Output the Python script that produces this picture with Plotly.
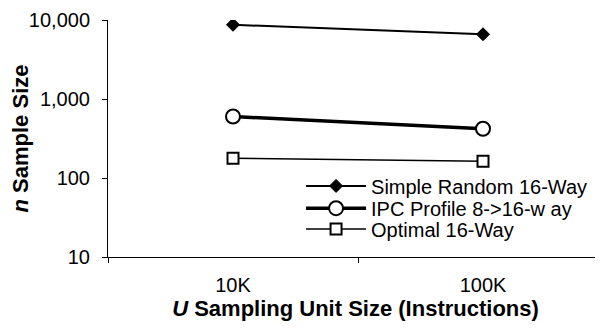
import plotly.graph_objects as go

categories = ["10K", "100K"]
simple_random = [8700, 6600]
ipc_profile = [600, 420]
optimal = [178, 163]
y_tick_vals = [10, 100, 1000, 10000]
y_tick_text = ["10", "100", "1,000", "10,000"]

FONT = "Liberation Sans, Arial, sans-serif"

fig = go.Figure()
fig.add_trace(go.Scatter(
    x=categories, y=simple_random, name="Simple Random 16-Way", mode="lines+markers",
    line=dict(color="black", width=2),
    marker=dict(symbol="diamond", size=10, color="black", line=dict(color="black", width=1)),
    legend="legend",
))
fig.add_trace(go.Scatter(
    x=categories, y=ipc_profile, name="IPC Profile 8->16-w ay", mode="lines+markers",
    line=dict(color="black", width=3.5),
    marker=dict(symbol="circle", size=14, color="white", line=dict(color="black", width=2)),
    legend="legend2",
))
fig.add_trace(go.Scatter(
    x=categories, y=optimal, name="Optimal 16-Way", mode="lines+markers",
    line=dict(color="black", width=1.5),
    marker=dict(symbol="square", size=11, color="white", line=dict(color="black", width=2)),
    legend="legend3",
))

leg_common = dict(x=0.39, xanchor="left", yanchor="middle",
                  bgcolor="rgba(0,0,0,0)", font=dict(size=20), itemwidth=60)

# page body has an 8px default margin, so the figure is offset by (8, 8)
fig.update_layout(
    width=603, height=332,
    margin=dict(l=100, r=8, t=12, b=83),
    paper_bgcolor="white", plot_bgcolor="white",
    font=dict(family=FONT, size=20, color="black"),
    showlegend=True,
    legend=dict(y=0.3, **leg_common),
    legend2=dict(y=0.206, **leg_common),
    legend3=dict(y=0.118, **leg_common),
    xaxis=dict(
        type="category", range=[-0.5, 1.48], automargin=False,
        showline=True, linecolor="black", linewidth=1,
        ticks="outside", tickson="boundaries", ticklen=5, tickcolor="black",
        showgrid=False, zeroline=False, ticklabeloverflow="allow",
        tickfont=dict(size=20), ticklabelstandoff=10,
        title=dict(text="<b><i>U</i> Sampling Unit Size (Instructions)</b>", font=dict(size=22), standoff=3),
    ),
    yaxis=dict(
        type="log", range=[1, 4], automargin=False,
        tickvals=y_tick_vals, ticktext=y_tick_text,
        showline=True, linecolor="black", linewidth=1,
        ticks="outside", ticklen=5, tickcolor="black",
        showgrid=False, zeroline=False, ticklabeloverflow="allow",
        tickfont=dict(size=20), ticklabelstandoff=8,
        title=dict(text="<b><i>n</i> Sample Size</b>", font=dict(size=22), standoff=4),
    ),
)

fig.write_html("out.html")
